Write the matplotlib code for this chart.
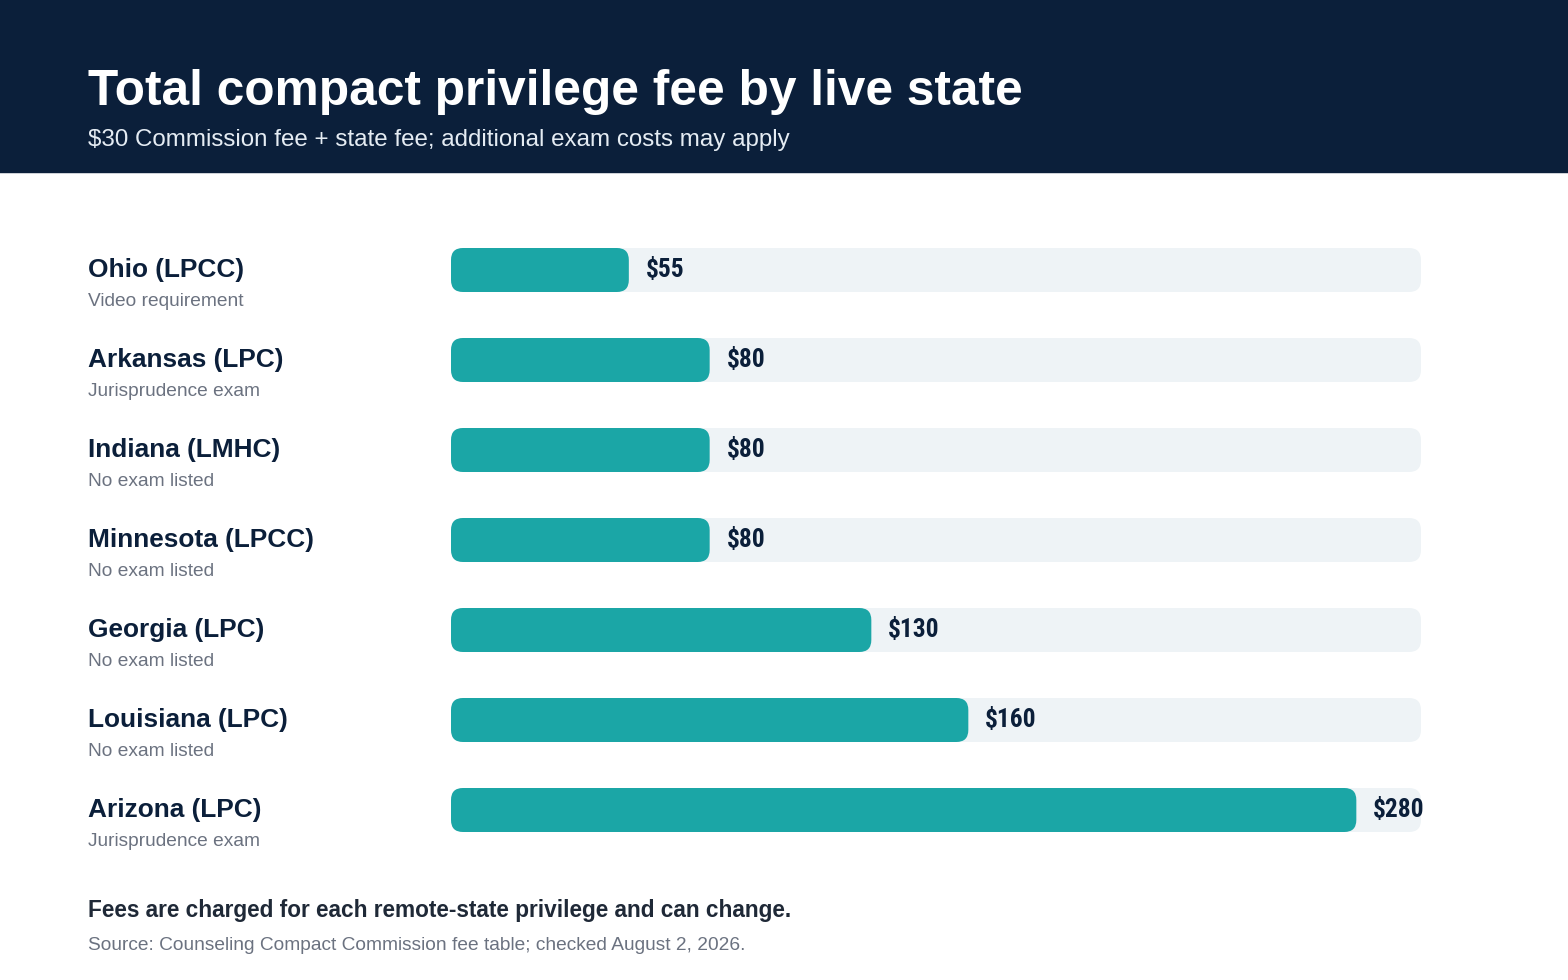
import matplotlib.pyplot as plt
from matplotlib.patches import FancyBboxPatch, Rectangle

states = ["Ohio (LPCC)", "Arkansas (LPC)", "Indiana (LMHC)", "Minnesota (LPCC)",
          "Georgia (LPC)", "Louisiana (LPC)", "Arizona (LPC)"]
notes = ["Video requirement", "Jurisprudence exam", "No exam listed", "No exam listed",
         "No exam listed", "No exam listed", "Jurisprudence exam"]
fees = [55, 80, 80, 80, 130, 160, 280]
x_max = 300

NAVY = "#0B1F3A"
TEAL = "#1BA6A6"
TRACK = "#EEF3F6"
GREY = "#6B7280"

W, H = 1568, 980
fig = plt.figure(figsize=(W / 102, H / 102), dpi=102)
plt.rcParams["font.family"] = ["Liberation Sans", "DejaVu Sans"]


def fx(px):
    return px / W


def fy(py):
    return 1 - py / H


# header band
fig.patches.append(Rectangle((0, fy(172)), 1, 172 / H, transform=fig.transFigure,
                             color=NAVY, zorder=0))
fig.text(fx(88), fy(92), "Total compact privilege fee by live state", color="white",
         fontsize=35, fontweight="bold", va="center")
fig.text(fx(88), fy(140), "$30 Commission fee + state fee; additional exam costs may apply",
         color="#E5ECF3", fontsize=17, va="center")

ax = fig.add_axes([fx(451), fy(855), 970 / W, 630 / H])
ax.set_xlim(0, x_max)
ax.set_ylim(len(fees) - 0.5, -0.5)
ax.axis("off")

bar_h = 44 / 90
xs_per_px = x_max / 970
aspect = (1 / 90) / xs_per_px
r = 12 * xs_per_px

for i, (st, nt, v) in enumerate(zip(states, notes, fees)):
    ax.add_patch(FancyBboxPatch((0, i - bar_h / 2), x_max, bar_h,
                                boxstyle=f"round,pad=0,rounding_size={r}",
                                mutation_aspect=aspect, color=TRACK, lw=0))
    ax.add_patch(FancyBboxPatch((0, i - bar_h / 2), v, bar_h,
                                boxstyle=f"round,pad=0,rounding_size={r}",
                                mutation_aspect=aspect, color=TEAL, lw=0))
    ax.text(v + 17 * xs_per_px, i, f"${v}", fontsize=18, fontweight="bold",
            color=NAVY, va="center", family=["Roboto Condensed", "Roboto", "DejaVu Sans"])
    yc = 270 + 90 * i
    fig.text(fx(88), fy(yc), st, fontsize=18.5, fontweight="bold", color=NAVY, va="center")
    fig.text(fx(88), fy(yc + 32), nt, fontsize=13.5, color=GREY, va="center")

fig.text(fx(88), fy(910), "Fees are charged for each remote-state privilege and can change.",
         fontsize=16, fontweight="bold", color="#1F2937", va="center")
fig.text(fx(88), fy(945), "Source: Counseling Compact Commission fee table; checked August 2, 2026.",
         fontsize=13.5, color=GREY, va="center")

fig.savefig("out.png", dpi=102, facecolor="white")
